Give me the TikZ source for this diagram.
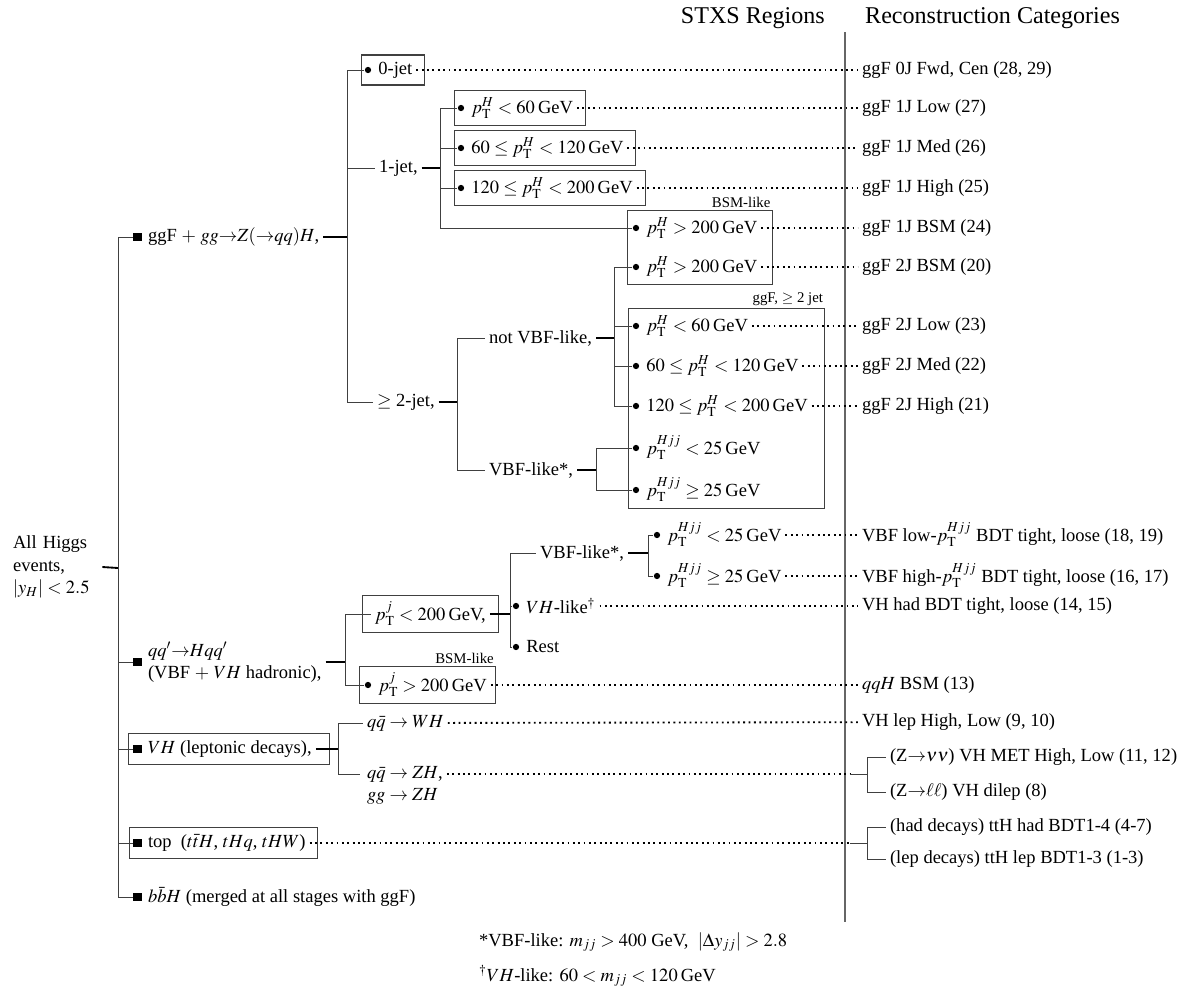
\documentclass[tikz,border=0pt]{standalone}
\usepackage{mathptmx}
\usepackage[no-math]{fontspec}
\setmainfont{Liberation Serif}
\usetikzlibrary{positioning,fit}

\newcommand{\pTH}{p_{\mathrm{T}}^{H}}
\newcommand{\pTHjj}{p_{\mathrm{T}}^{Hjj}}
\newcommand{\pTj}{p_{\mathrm{T}}^{j}}

\tikzset{
  lbl/.style={inner sep=2pt, anchor=west},
  cat/.style={inner sep=2pt, anchor=west},
  dot/.style={circle, fill=black, inner sep=0pt, minimum size=3.4pt},
  sqr/.style={rectangle, fill=black, inner sep=0pt, minimum size=4.6pt},
  tree/.style={draw=black!75, line width=0.5pt},
  tick/.style={black, line width=1pt},
  dots/.style={black, line width=1pt, dash pattern=on 1pt off 1.9pt},
  box/.style={draw=black!75, line width=0.6pt, inner sep=1.5pt},
  wbox/.style={box, inner xsep=3pt, xshift=1.5pt},
  tag/.style={font=\fontsize{8}{9}\selectfont, inner sep=1pt, anchor=south east},
  head/.style={font=\fontsize{13}{15}\selectfont, inner sep=1pt},
}

\begin{document}
\begin{tikzpicture}[x=0.54pt,y=-0.54pt]
\useasboundingbox (0,0) rectangle (1187,990);

%headings
\node[head, anchor=east] (stxs) at (827,18) {STXS Regions};
\node[head, anchor=west] (reco) at (863,18) {Reconstruction Categories};
\coordinate (divtop) at (845,32);
\coordinate (divbot) at (845,922);
\draw[black!60, line width=0.7pt] (divtop) -- (divbot);

%root
\node[lbl, align=left, text width=46pt] (all) at (9,567) {All Higgs\\events,\\$|y_H| < 2.5$};
\coordinate (j0) at (118,568);
\draw[tick] (all.east) -- (j0);

%ggF
\node[sqr] (s1) at (137.5,237) {};
\node[lbl, right=1pt of s1] (ggf) {ggF $+$ $gg{\to}Z({\to}qq)H$,};
\draw[tree] (j0) |- (s1);
\coordinate (j1) at (347,237);
\draw[tick] (ggf) -- (j1);

\node[dot] (d0) at (368,70) {};
\node[lbl, right=1.5pt of d0] (zerojet) {0-jet};
\node[wbox, fit=(d0)(zerojet)] (bzero) {};
\draw[tree] (j1) |- (d0);

\node[lbl] (onejet) at (375,168) {1-jet,};
\draw[tree] (j1) |- (onejet);
\coordinate (j2) at (440,168);
\draw[tick] (onejet) -- (j2);

\node[dot] (d1) at (461,108) {};
\node[lbl, right=1.5pt of d1] (t1) {$\pTH < 60$\,GeV};
\node[wbox, fit=(d1)(t1)] (b1) {};
\node[dot] (d2) at (461,148) {};
\node[lbl, right=1.5pt of d2] (t2) {$60 \leq \pTH < 120$\,GeV};
\node[wbox, fit=(d2)(t2)] (b2) {};
\node[dot] (d3) at (461,188) {};
\node[lbl, right=1.5pt of d3] (t3) {$120 \leq \pTH < 200$\,GeV};
\node[wbox, fit=(d3)(t3)] (b3) {};

\node[dot] (d4) at (636,228) {};
\node[lbl, right=1.5pt of d4] (t4) {$\pTH > 200$\,GeV};
\node[dot] (d5) at (636,267) {};
\node[lbl, right=1.5pt of d5] (t5) {$\pTH > 200$\,GeV};
\node[box, inner xsep=4.3pt, xshift=1.5pt, fit=(d4)(t4)(d5)(t5)] (bbsm) {};
\node[tag] (bsmtag) at (bbsm.north east) {BSM-like};

\foreach \d in {d1,d2,d3,d4}
  \draw[tree] (j2) |- (\d);

\node[lbl] (twojet) at (373,402) {$\geq$ 2-jet,};
\draw[tree] (j1) |- (twojet);
\coordinate (j3) at (457,402);
\draw[tick] (twojet) -- (j3);

\node[lbl] (notvbf) at (485,338) {not VBF-like,};
\draw[tree] (j3) |- (notvbf);
\coordinate (j4) at (614,338);
\draw[tick] (notvbf) -- (j4);
\node[lbl] (vbfa) at (485,470) {VBF-like*,};
\draw[tree] (j3) |- (vbfa);
\coordinate (j5) at (596,470);
\draw[tick] (vbfa) -- (j5);

\node[dot] (d6) at (636,326) {};
\node[lbl, right=1.5pt of d6] (t6) {$\pTH < 60$\,GeV};
\node[dot] (d7) at (636,366) {};
\node[lbl, right=1.5pt of d7] (t7) {$60 \leq \pTH < 120$\,GeV};
\node[dot] (d8) at (636,406) {};
\node[lbl, right=1.5pt of d8] (t8) {$120 \leq \pTH < 200$\,GeV};
\node[dot] (d9) at (636,448) {};
\node[lbl, right=1.5pt of d9] (t9) {$\pTHjj < 25$\,GeV};
\node[dot] (d10) at (636,490) {};
\node[lbl, right=1.5pt of d10] (t10) {$\pTHjj \geq 25$\,GeV};
\node[box, inner xsep=4.6pt, xshift=2.4pt, fit=(d6)(t6)(t8)(d10)(t10)] (btwo) {};
\node[tag] (twotag) at (btwo.north east) {ggF, $\geq$ 2 jet};

\foreach \d in {d5,d6,d7,d8}
  \draw[tree] (j4) |- (\d);
\foreach \d in {d9,d10}
  \draw[tree] (j5) |- (\d);

%VBF + VH hadronic
\node[sqr] (s2) at (137.5,662) {};
\node[lbl, right=1pt of s2, align=left] (qqh) {$qq'{\to}Hqq'$\\(VBF $+$ $VH$ hadronic),};
\draw[tree] (j0) |- (s2);
\coordinate (j6) at (345,662);
\draw[tick] (qqh) -- (j6);

\node[lbl] (ptjlow) at (371,614) {$\pTj < 200$\,GeV,};
\node[box, inner xsep=4.5pt, fit=(ptjlow)] (bptj) {};
\draw[tree] (j6) |- (ptjlow);
\coordinate (j7) at (510,614);
\draw[tick] (ptjlow) -- (j7);

\node[lbl] (vbfb) at (536,553) {VBF-like*,};
\draw[tree] (j7) |- (vbfb);
\coordinate (j8) at (648,553);
\draw[tick] (vbfb) -- (j8);
\node[dot] (d13) at (657,535) {};
\node[lbl, right=1.5pt of d13] (t13) {$\pTHjj < 25$\,GeV};
\node[dot] (d14) at (657,576) {};
\node[lbl, right=1.5pt of d14] (t14) {$\pTHjj \geq 25$\,GeV};
\draw[tree] (j8) |- (d13);
\draw[tree] (j8) |- (d14);

\node[dot] (d11) at (516,606) {};
\node[lbl, right=1.5pt of d11] (t11) {$VH$-like$^\dagger$};
\node[dot] (d12) at (516,647) {};
\node[lbl, right=1.5pt of d12] (t12) {Rest};
\draw[tree] (j7) |- (d11);
\draw[tree] (j7) |- (d12);

\node[dot] (d15) at (368,685) {};
\node[lbl, right=1.5pt of d15] (t15) {$\pTj > 200$\,GeV};
\node[box, inner xsep=2.5pt, fit=(d15)(t15)] (bptjh) {};
\node[tag] (qqtag) at (bptjh.north east) {BSM-like};
\draw[tree] (j6) |- (d15);

%VH leptonic
\node[sqr] (s3) at (137.5,749) {};
\node[lbl, right=1pt of s3] (vhlep) {$VH$ (leptonic decays),};
\node[box, inner xsep=5pt, xshift=2.5pt, fit=(s3)(vhlep)] (bvh) {};
\draw[tree] (j0) |- (s3);
\coordinate (j9) at (338,749);
\draw[tick] (vhlep) -- (j9);
\node[lbl] (wh) at (363,723) {$q\bar q\to WH$};
\draw[tree] (j9) |- (wh);
\coordinate (zhin) at (360,774);
\draw[tree] (j9) |- (zhin);
\node[lbl, anchor=north west, align=left] (zh) at (363,762) {$q\bar q\to ZH$,\\$gg\to ZH$};

%top and bbH
\node[sqr] (s4) at (137.5,843) {};
\node[lbl, right=1pt of s4] (top) {top\ \ ($t\bar tH$, $tHq$, $tHW$)};
\node[box, inner xsep=3pt, xshift=1pt, fit=(s4)(top)] (btop) {};
\draw[tree] (j0) |- (s4);
\node[sqr] (s5) at (137.5,897) {};
\node[lbl, right=1pt of s5] (bbh) {$b\bar bH$ (merged at all stages with ggF)};
\draw[tree] (j0) |- (s5);

%categories
\node[cat] (c28) at (858,70) {ggF 0J Fwd, Cen (28, 29)};
\node[cat] (c27) at (858,108) {ggF 1J Low (27)};
\node[cat] (c26) at (858,148) {ggF 1J Med (26)};
\node[cat] (c25) at (858,188) {ggF 1J High (25)};
\node[cat] (c24) at (858,228) {ggF 1J BSM (24)};
\node[cat] (c20) at (858,267) {ggF 2J BSM (20)};
\node[cat] (c23) at (858,326) {ggF 2J Low (23)};
\node[cat] (c22) at (858,366) {ggF 2J Med (22)};
\node[cat] (c21) at (858,406) {ggF 2J High (21)};
\node[cat] (c18) at (858,535) {VBF low-$\pTHjj$ BDT tight, loose (18, 19)};
\node[cat] (c16) at (858,576) {VBF high-$\pTHjj$ BDT tight, loose (16, 17)};
\node[cat] (c14) at (858,606) {VH had BDT tight, loose (14, 15)};
\node[cat] (c13) at (858,685) {$qqH$ BSM (13)};
\node[cat] (c9) at (858,722) {VH lep High, Low (9, 10)};
\node[cat] (c11) at (886,757) {(Z${\to}\nu\nu$) VH MET High, Low (11, 12)};
\node[cat] (c8) at (886,792) {(Z${\to}\ell\ell$) VH dilep (8)};
\node[cat] (c4) at (886,827) {(had decays) ttH had BDT1-4 (4-7)};
\node[cat] (c1) at (886,859) {(lep decays) ttH lep BDT1-3 (1-3)};

\draw[dots] (zerojet) -- (c28);
\draw[dots] (t1) -- (c27);
\draw[dots] (t2) -- (c26);
\draw[dots] (t3) -- (c25);
\draw[dots] (t4) -- (c24);
\draw[dots] (t5) -- (c20);
\draw[dots] (t6) -- (c23);
\draw[dots] (t7) -- (c22);
\draw[dots] (t8) -- (c21);
\draw[dots] (t13) -- (c18);
\draw[dots] (t14) -- (c16);
\draw[dots] (t11) -- (c14);
\draw[dots] (t15) -- (c13);
\draw[dots] (wh) -- (c9);

\coordinate (zhj) at (850,774);
\coordinate (zbr) at (867,774);
\draw[dots] (zh.east |- zhin) -- (zhj);
\draw[tree] (zhj) -- (zbr);
\draw[tree] (zbr) |- (c11);
\draw[tree] (zbr) |- (c8);

\coordinate (topj) at (850,843);
\coordinate (tbr) at (867,843);
\draw[dots] (top) -- (topj);
\draw[tree] (topj) -- (tbr);
\draw[tree] (tbr) |- (c4);
\draw[tree] (tbr) |- (c1);

%footnotes
\node[lbl] (fna) at (475,942) {*VBF-like: $m_{jj} > 400$ GeV,\ \ $|\Delta y_{jj}| > 2.8$};
\node[lbl] (fnb) at (475,976) {$^\dagger VH$-like: $60 < m_{jj} < 120$\,GeV};

\end{tikzpicture}
\end{document}
